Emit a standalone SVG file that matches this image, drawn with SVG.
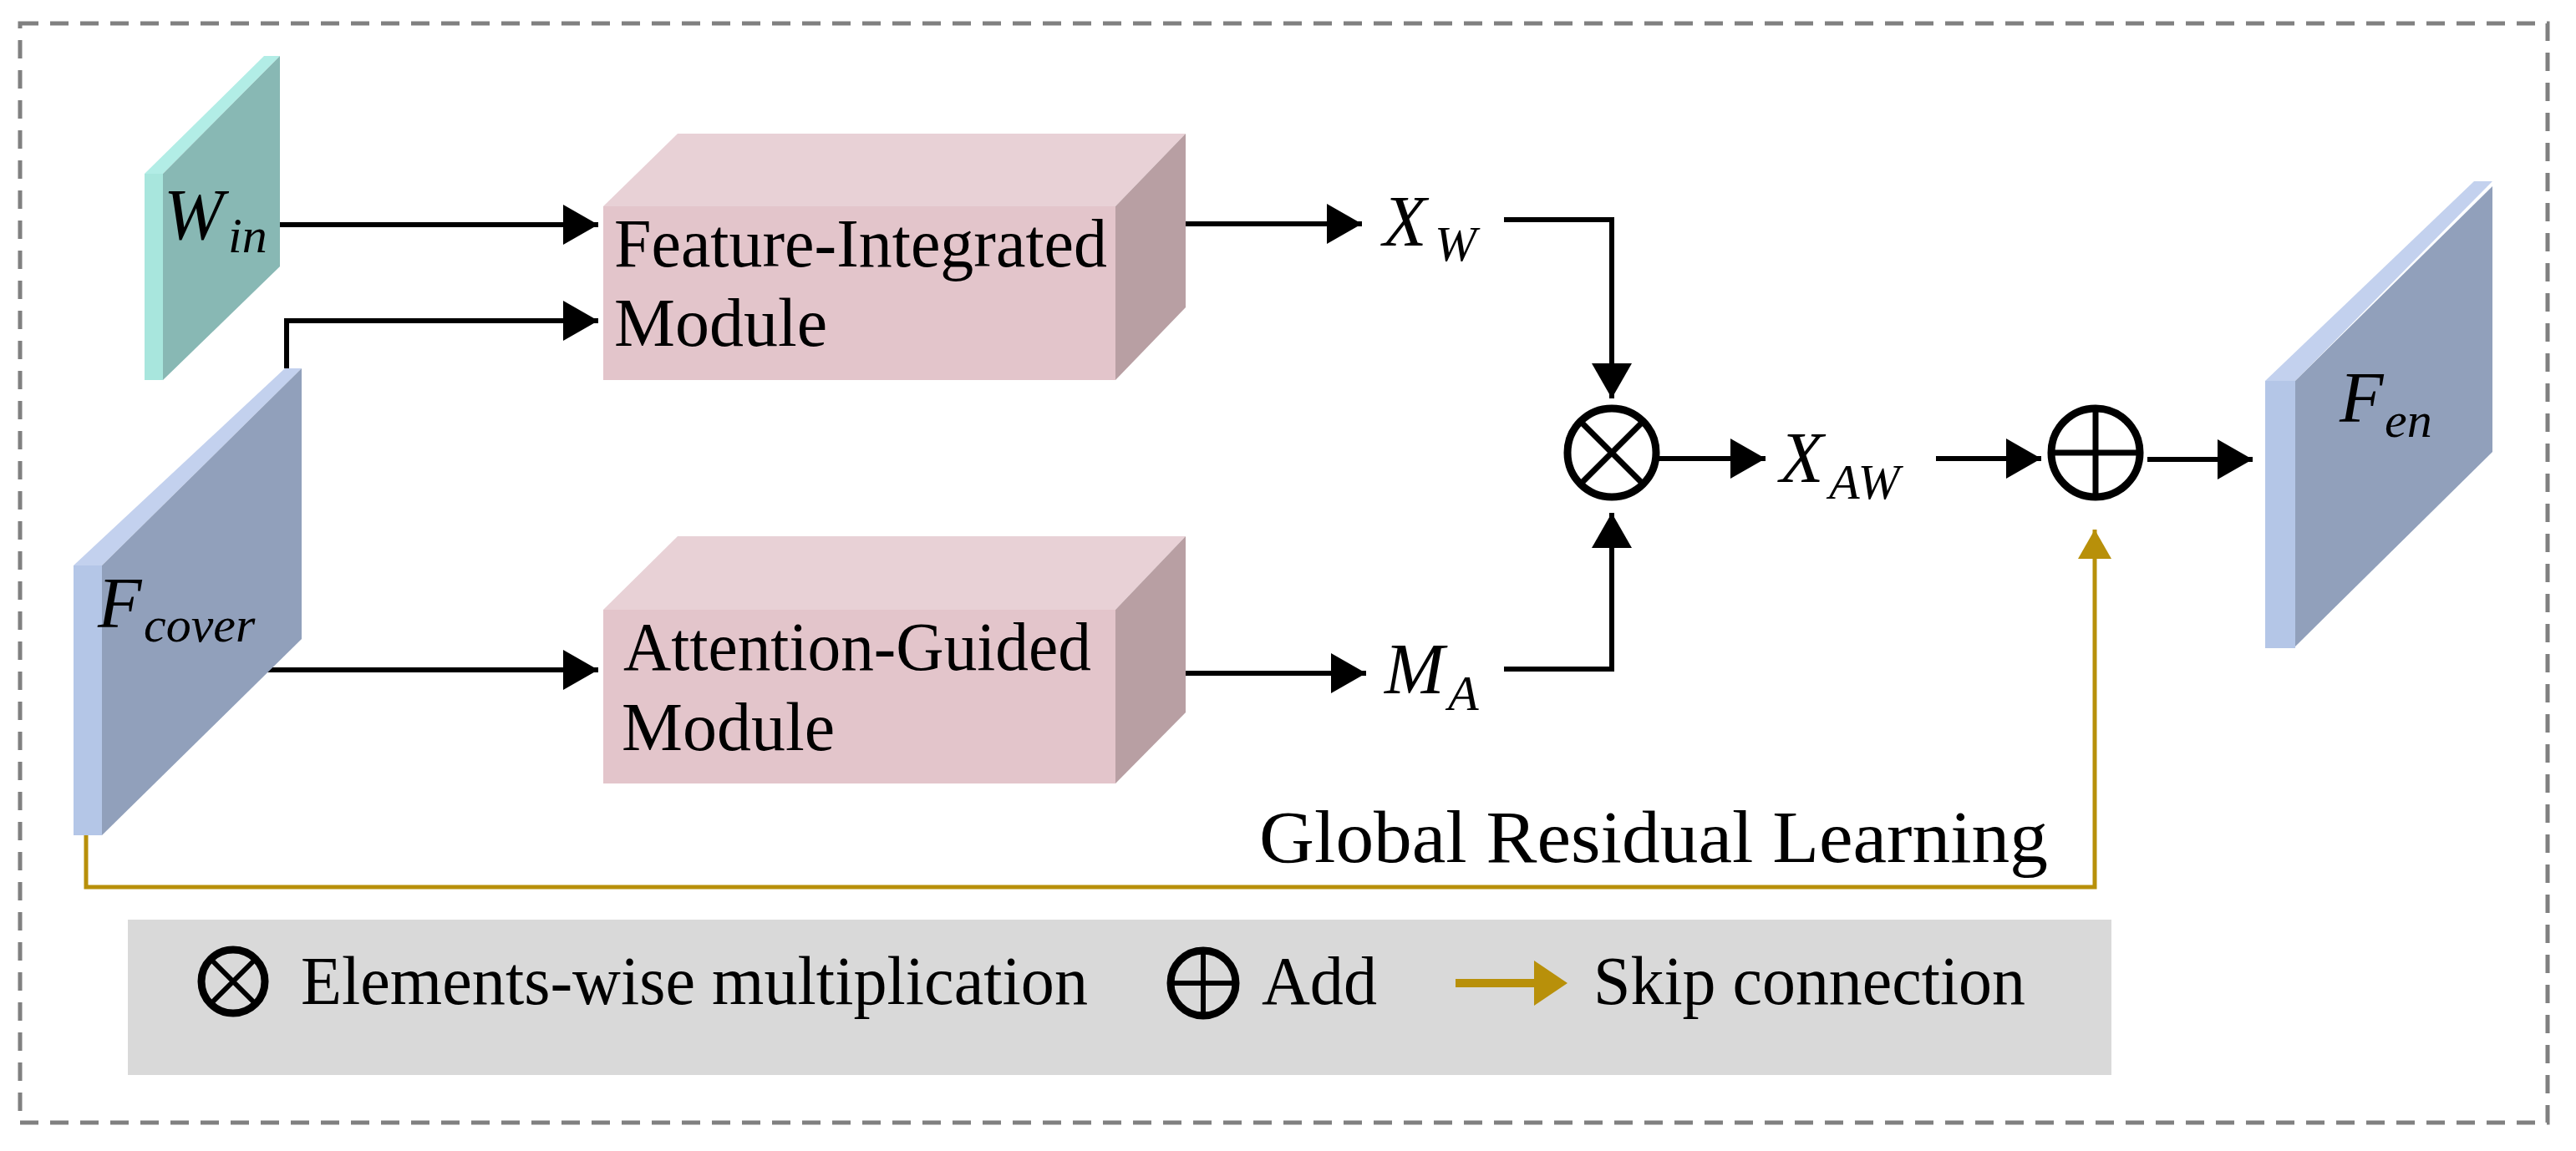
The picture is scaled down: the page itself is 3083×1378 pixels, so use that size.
<svg xmlns="http://www.w3.org/2000/svg" width="3083" height="1378" viewBox="0 0 3083 1378">
<style>
text{font-family:"Liberation Serif","Times New Roman",serif;fill:#000}
.lbl{font-size:82px}
.m{font-style:italic;font-size:86px}
.s{font-style:italic;font-size:60px}
.ln{fill:none;stroke:#000;stroke-width:6}
.gd{fill:none;stroke:#B8900A;stroke-width:5}
.op{fill:none;stroke:#000;stroke-width:9}
.front{fill:#E3C5CB}.top{fill:#E8D1D6}.side{fill:#B89FA3}
</style>
<defs>
<marker id="ah" markerWidth="8" markerHeight="8" refX="7" refY="4" orient="auto" markerUnits="strokeWidth"><path d="M0,0 L7,4 L0,8 z" fill="#000"/></marker>
<marker id="ag" markerWidth="8" markerHeight="8" refX="7" refY="4" orient="auto" markerUnits="strokeWidth"><path d="M0,0 L7,4 L0,8 z" fill="#B8900A"/></marker>
</defs>
<rect x="24" y="28" width="3025" height="1316" fill="none" stroke="#808080" stroke-width="5" stroke-dasharray="22 14"/>

<g id="legend">
<rect x="153" y="1101" width="2374" height="186" fill="#D9D9D9"/>
<circle cx="279" cy="1175" r="38" class="op" stroke-width="7"/>
<path d="M252,1148 L306,1202 M306,1148 L252,1202" stroke="#000" stroke-width="6"/>
<text class="lbl" x="360" y="1202" textLength="942" lengthAdjust="spacingAndGlyphs">Elements-wise multiplication</text>
<circle cx="1440" cy="1177" r="39" class="op" stroke-width="7"/>
<path d="M1401,1177 H1479 M1440,1138 V1216" stroke="#000" stroke-width="6"/>
<text class="lbl" x="1510" y="1202" textLength="138" lengthAdjust="spacingAndGlyphs">Add</text>
<path d="M1742,1177 H1838" stroke="#B8900A" stroke-width="10"/>
<path d="M1836,1150 L1876,1177 L1836,1204 z" fill="#B8900A"/>
<text class="lbl" x="1907" y="1202" textLength="517" lengthAdjust="spacingAndGlyphs">Skip connection</text>
</g>

<g id="connectors">
<path class="ln" d="M335,269 H716" marker-end="url(#ah)"/>
<path class="ln" d="M343,441 V384 H716" marker-end="url(#ah)"/>
<path class="ln" d="M314,802 H716" marker-end="url(#ah)"/>
<path class="ln" d="M1419,268 H1630" marker-end="url(#ah)"/>
<path class="ln" d="M1419,806 H1635" marker-end="url(#ah)"/>
<path class="ln" d="M1800,263 H1929 V477" marker-end="url(#ah)"/>
<path class="ln" d="M1800,801 H1929 V614" marker-end="url(#ah)"/>
<path class="ln" d="M1985,549 H2113" marker-end="url(#ah)"/>
<path class="ln" d="M2317,549 H2443" marker-end="url(#ah)"/>
<path class="ln" d="M2570,550 H2696" marker-end="url(#ah)"/>
<path class="gd" d="M103,1000 V1062 H2507 V634" marker-end="url(#ag)"/>
<text x="1507" y="1032" font-size="88" textLength="944" lengthAdjust="spacingAndGlyphs">Global Residual Learning</text>
</g>

<g id="w_in">
<polygon points="173,208 316,67 335,67 195,208" fill="#B2EDE6"/>
<polygon points="195,208 335,67 335,319 195,455" fill="#88B8B4"/>
<rect x="173" y="208" width="22" height="247" fill="#A8E6DD"/>
<text class="m" x="196" y="286" font-size="80">W</text><text class="s" x="273" y="302">in</text>
</g>

<g id="f_cover">
<polygon points="88,677 341,441 361,441 122,677" fill="#C3D1EE"/>
<polygon points="122,677 361,441 361,765 122,1000" fill="#91A0BB"/>
<rect x="88" y="677" width="34" height="323" fill="#B4C6E7"/>
<text class="m" x="117" y="751">F</text><text class="s" x="172" y="768">cover</text>
</g>

<g id="fim">
<polygon class="top" points="722,247 811,160 1419,160 1335,247"/>
<polygon class="side" points="1335,247 1419,160 1419,368 1335,455"/>
<rect class="front" x="722" y="247" width="613" height="208"/>
<text class="lbl" x="735" y="319" textLength="590" lengthAdjust="spacingAndGlyphs">Feature-Integrated</text>
<text class="lbl" x="735" y="414">Module</text>
</g>

<g id="agm">
<polygon class="top" points="722,730 811,642 1419,642 1335,730"/>
<polygon class="side" points="1335,730 1419,642 1419,853 1335,938"/>
<rect class="front" x="722" y="730" width="613" height="208"/>
<text class="lbl" x="746" y="802" textLength="560" lengthAdjust="spacingAndGlyphs">Attention-Guided</text>
<text class="lbl" x="744" y="898">Module</text>
</g>

<g id="x_w"><text class="m" x="1655" y="294">X</text><text class="s" x="1717" y="312">W</text></g>
<g id="m_a"><text class="m" x="1657" y="830">M</text><text class="s" x="1733" y="850">A</text></g>
<g id="x_aw"><text class="m" x="2130" y="577">X</text><text class="s" x="2189" y="597">AW</text></g>

<g id="mul">
<circle cx="1929" cy="542" r="53" class="op"/>
<path d="M1892,505 L1966,579 M1966,505 L1892,579" stroke="#000" stroke-width="7"/>
</g>
<g id="add">
<circle cx="2508" cy="542" r="53" class="op"/>
<path d="M2455,542 H2561 M2508,489 V595" stroke="#000" stroke-width="7"/>
</g>

<g id="f_en">
<polygon points="2711,456 2961,217 2983,217 2747,456" fill="#C3D1EE"/>
<polygon points="2747,456 2983,223 2983,541 2747,774" fill="#91A0BB"/>
<rect x="2711" y="456" width="36" height="320" fill="#B4C6E7"/>
<text class="m" x="2800" y="505">F</text><text class="s" x="2854" y="523">en</text>
</g>
</svg>
